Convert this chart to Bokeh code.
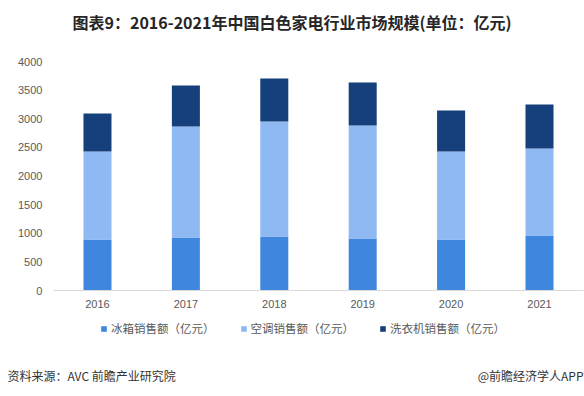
from bokeh.plotting import figure
from bokeh.models import (Range1d, FixedTicker, Label, Legend, LegendItem,
                          ColumnDataSource, BasicTickFormatter)
from bokeh.embed import file_html
from bokeh.resources import INLINE

# ---- data ----
years = [2016, 2017, 2018, 2019, 2020, 2021]
fridge = [890, 925, 943, 908, 890, 961]      # 冰箱销售额（亿元）
ac = [1538, 1940, 2009, 1974, 1538, 1519]    # 空调销售额（亿元）
washer = [664, 716, 751, 751, 716, 769]      # 洗衣机销售额（亿元）
series_names = ["冰箱销售额（亿元）", "空调销售额（亿元）", "洗衣机销售额（亿元）"]
y_ticks = [0, 500, 1000, 1500, 2000, 2500, 3000, 3500, 4000]
title_text = "图表9：2016-2021年中国白色家电行业市场规模(单位：亿元)"
source_text = "资料来源：AVC 前瞻产业研究院"
brand_text = "@前瞻经济学人APP"

colors = ["#3f87de", "#8fb9f3", "#16407b"]
CJK = "Noto Sans CJK SC"
W, H = 584, 396

src = ColumnDataSource(dict(year=years, fridge=fridge, ac=ac, washer=washer))

# frame covers the whole canvas; axes are pinned inside with fixed_location
p = figure(width=W, height=H, output_backend="svg", toolbar_location=None,
           x_range=Range1d(2014.903, 2021.509), y_range=Range1d(-1851.5, 5065.5),
           min_border=0)
p.outline_line_color = None
p.xgrid.visible = False
p.ygrid.visible = False
p.background_fill_color = "white"
p.border_fill_color = "white"

rs = p.vbar_stack(["fridge", "ac", "washer"], x="year", width=0.317,
                  color=colors, line_color=None, source=src)

# axes
p.yaxis.fixed_location = 2015.502
p.yaxis.ticker = FixedTicker(ticks=y_ticks)
p.yaxis.axis_line_color = None
p.yaxis.major_tick_line_color = None
p.yaxis.minor_tick_line_color = None
p.yaxis.major_tick_out = 0
p.yaxis.major_label_standoff = 11
p.yaxis.major_label_text_font = "Liberation Sans"
p.yaxis.major_label_text_font_size = "11px"
p.yaxis.major_label_text_color = "#595959"

p.xaxis.fixed_location = 0
p.xaxis.bounds = (2015.502, 2021.5)
p.xaxis.ticker = FixedTicker(ticks=years)
p.xaxis.formatter = BasicTickFormatter(use_scientific=False)
p.xaxis.axis_line_color = "#d9d9d9"
p.xaxis.axis_line_width = 1
p.xaxis.major_tick_line_color = None
p.xaxis.minor_tick_line_color = None
p.xaxis.major_tick_out = 0
p.xaxis.major_label_standoff = 9
p.xaxis.major_label_text_font = "Liberation Sans"
p.xaxis.major_label_text_font_size = "11px"
p.xaxis.major_label_text_color = "#595959"

# legend
legend = Legend(items=[LegendItem(label=n, renderers=[r]) for n, r in zip(series_names, rs)],
                orientation="horizontal", location=(100, 60),
                glyph_width=7, glyph_height=7, label_standoff=4, spacing=25,
                padding=0, margin=0, border_line_color=None, background_fill_alpha=0,
                label_text_font=CJK, label_text_font_size="11.5px",
                label_text_color="#595959", label_height=14)
p.add_layout(legend, "center")

# title & footer (screen units, from bottom-left of canvas)
p.add_layout(Label(x=291.5, y=H - 21, x_units="screen", y_units="screen", text=title_text,
                   text_align="center", text_baseline="middle", text_font=CJK,
                   text_font_size="16px", text_font_style="bold", text_color="#262626"))
p.add_layout(Label(x=7, y=H - 375, x_units="screen", y_units="screen", text=source_text,
                   text_align="left", text_baseline="middle", text_font=CJK,
                   text_font_size="12px", text_color="#333333"))
p.add_layout(Label(x=583, y=H - 375, x_units="screen", y_units="screen", text=brand_text,
                   text_align="right", text_baseline="middle", text_font=CJK,
                   text_font_size="12px", text_color="#333333"))

open("out.html", "w").write(file_html(p, INLINE))
